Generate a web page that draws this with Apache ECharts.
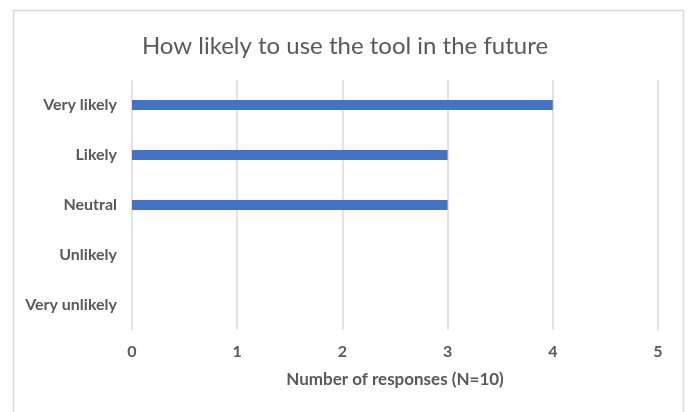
<!DOCTYPE html>
<html>
<head>
<meta charset="utf-8">
<script src="https://cdn.jsdelivr.net/npm/echarts@6/dist/echarts.min.js"></script>
<style>
html,body{margin:0;padding:0;background:#fff;}
#c{width:690px;height:412px;}
</style>
</head>
<body>
<div id="c"></div>
<script>
var categories = ["Very likely", "Likely", "Neutral", "Unlikely", "Very unlikely"];
var responses = [4, 3, 3, 0, 0];
var titleText = "How likely to use the tool in the future";
var xAxisTitle = "Number of responses (N=10)";

var FONT = "Lato, 'Open Sans', sans-serif";
var chart = echarts.init(document.getElementById('c'), null, {renderer: 'canvas'});
chart.setOption({
  animation: false,
  backgroundColor: '#fff',
  graphic: [{
    type: 'rect', silent: true, z: -10,
    shape: {x: 13.5, y: 10.5, width: 670, height: 420},
    style: {fill: '#fff', stroke: '#d9d9d9', lineWidth: 1.5}
  }],
  title: {
    text: titleText, left: 'center', top: 29,
    textStyle: {fontFamily: FONT, fontSize: 24, fontWeight: 'normal', color: '#595959'}
  },
  grid: {left: 132, right: 32, top: 80, bottom: 82, containLabel: false},
  xAxis: {
    type: 'value', min: 0, max: 5, interval: 1,
    name: xAxisTitle, nameLocation: 'middle', nameGap: 41,
    nameTextStyle: {fontFamily: FONT, fontSize: 17, fontWeight: 'bold', color: '#595959'},
    axisLine: {show: false}, axisTick: {show: false},
    axisLabel: {fontFamily: FONT, fontSize: 16, fontWeight: 'bold', color: '#595959', margin: 14},
    splitLine: {show: true, lineStyle: {color: '#d9d9d9', width: 1.5}}
  },
  yAxis: {
    type: 'category', data: categories, inverse: true,
    axisLine: {show: false}, axisTick: {show: false},
    axisLabel: {fontFamily: FONT, fontSize: 16, fontWeight: 'bold', color: '#595959', margin: 15}
  },
  series: [{
    type: 'bar', data: responses, barWidth: 10,
    itemStyle: {color: '#4472c4'}
  }]
});
</script>
</body>
</html>
